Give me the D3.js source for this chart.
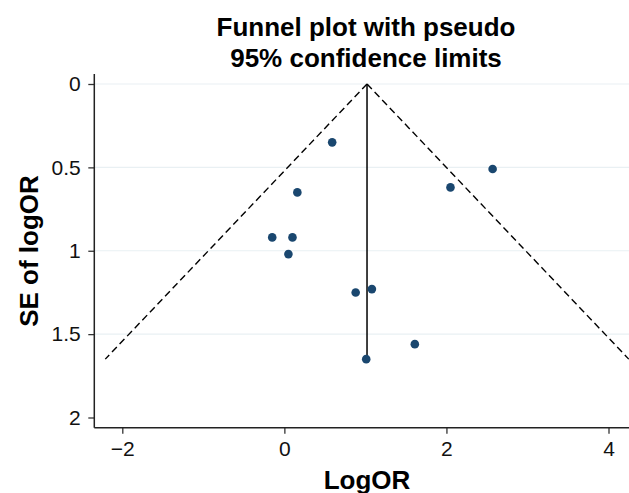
<!DOCTYPE html>
<html>
<head>
<meta charset="utf-8">
<script src="https://cdn.jsdelivr.net/npm/d3@7"></script>
<style>
  body { margin: 0; background: #fff; }
  svg { display: block; font-family: "Liberation Sans", Arial, Helvetica, sans-serif; }
</style>
</head>
<body>
<div id="chart"></div>
<script>
// Study estimates
const logOR = [0.59, 2.57, 2.05, 0.16, -0.15, 0.10, 0.05, 0.88, 1.08, 1.61, 1.01];
const seLogOR = [0.35, 0.51, 0.62, 0.65, 0.92, 0.92, 1.02, 1.25, 1.23, 1.56, 1.65];

// Pooled estimate line and pseudo 95% limits (end points)
const pooledLine = [[1.02, 0], [1.02, 1.65]];
const limitLeft = [[1.02, 0], [-2.21, 1.65]];
const limitRight = [[1.02, 0], [4.25, 1.65]];

const xTicks = [-2, 0, 2, 4];
const yTicks = [0, 0.5, 1, 1.5, 2];
const gridTicks = [0, 0.5, 1, 1.5];

const titleLines = ["Funnel plot with pseudo", "95% confidence limits"];

const width = 629;
const height = 493;
const plotLeft = 94.3;
const plotRight = 629;
const plotTop = 74;
const plotBottom = 427.7;

const x = d3.scaleLinear().domain([-2, 4]).range([122.3, 608.5]);
const y = d3.scaleLinear().domain([0, 2]).range([84, 417.5]);

const svg = d3.select("#chart").append("svg")
    .attr("width", width)
    .attr("height", height)
    .attr("viewBox", [0, 0, width, height]);

// gridlines
svg.append("g")
  .selectAll("line")
  .data(gridTicks)
  .join("line")
    .attr("x1", plotLeft)
    .attr("x2", plotRight)
    .attr("y1", d => y(d))
    .attr("y2", d => y(d))
    .attr("stroke", "#e9f0f3")
    .attr("stroke-width", 1.2);

// y axis
svg.append("g")
    .attr("transform", `translate(${plotLeft},0)`)
    .call(d3.axisLeft(y).tickValues(yTicks).tickSize(6).tickPadding(7.5).tickFormat(d3.format("~g")))
    .call(g => g.select(".domain").remove())
    .call(g => g.selectAll(".tick line").attr("stroke", "#333").attr("stroke-width", 1.3))
    .call(g => g.selectAll(".tick text").attr("font-size", 21).attr("fill", "#111")
        .attr("font-family", "Liberation Sans, Arial, sans-serif"));

// x axis
svg.append("g")
    .attr("transform", `translate(0,${plotBottom})`)
    .call(d3.axisBottom(x).tickValues(xTicks).tickSize(6).tickPadding(7.5)
        .tickFormat(d => d < 0 ? "\u2212" + Math.abs(d) : d))
    .call(g => g.select(".domain").remove())
    .call(g => g.selectAll(".tick line").attr("stroke", "#333").attr("stroke-width", 1.3))
    .call(g => g.selectAll(".tick text").attr("font-size", 21).attr("fill", "#111")
        .attr("font-family", "Liberation Sans, Arial, sans-serif"));

// axis lines
svg.append("line")
    .attr("x1", plotLeft).attr("x2", plotLeft)
    .attr("y1", plotTop).attr("y2", plotBottom)
    .attr("stroke", "#222").attr("stroke-width", 1.5);
svg.append("line")
    .attr("x1", plotLeft).attr("x2", plotRight)
    .attr("y1", plotBottom).attr("y2", plotBottom)
    .attr("stroke", "#222").attr("stroke-width", 1.5);

const line = d3.line()
    .x(d => x(d[0]))
    .y(d => y(d[1]));

// pseudo confidence limits
[limitLeft, limitRight].forEach(pts => {
  svg.append("path")
      .attr("d", line(pts))
      .attr("fill", "none")
      .attr("stroke", "#000")
      .attr("stroke-width", 1.4)
      .attr("stroke-dasharray", "7,4");
});

// pooled estimate
svg.append("path")
    .attr("d", line(pooledLine))
    .attr("fill", "none")
    .attr("stroke", "#000")
    .attr("stroke-width", 1.5);

// study points
svg.append("g")
    .attr("fill", "#1a476f")
  .selectAll("circle")
  .data(logOR.map((v, i) => [v, seLogOR[i]]))
  .join("circle")
    .attr("cx", d => x(d[0]))
    .attr("cy", d => y(d[1]))
    .attr("r", 4.3);

// title
svg.append("text")
    .attr("text-anchor", "middle")
    .attr("font-size", 26)
    .attr("font-weight", "bold")
    .attr("fill", "#000")
  .selectAll("tspan")
  .data(titleLines)
  .join("tspan")
    .attr("x", 366)
    .attr("y", (d, i) => 36 + i * 31)
    .text(d => d);

// axis titles
svg.append("text")
    .attr("x", 367)
    .attr("y", 489)
    .attr("text-anchor", "middle")
    .attr("font-size", 26)
    .attr("font-weight", "bold")
    .text("LogOR");

svg.append("text")
    .attr("transform", "translate(37.5,251) rotate(-90)")
    .attr("text-anchor", "middle")
    .attr("font-size", 26)
    .attr("font-weight", "bold")
    .text("SE of logOR");
</script>
</body>
</html>
